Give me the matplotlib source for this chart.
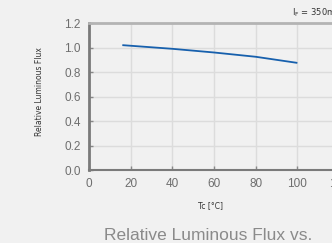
import matplotlib
matplotlib.use("Agg")
import matplotlib.pyplot as plt

# Relative luminous flux vs. case temperature
tc = [16, 20, 40, 60, 80, 100]
flux = [1.02, 1.015, 0.99, 0.96, 0.925, 0.875]
x_ticks = [0, 20, 40, 60, 80, 100, 120]
y_ticks = [0.0, 0.2, 0.4, 0.6, 0.8, 1.0, 1.2]

bg = '#f1f1f1'
fig = plt.figure(figsize=(3.32, 2.43), dpi=100, facecolor=bg)
ax = fig.add_axes([0.268, 0.300, 0.816, 0.605], facecolor=bg)

ax.plot(tc, flux, color='#1760ad', linewidth=1.3, solid_capstyle='butt')

ax.set_xlim(0, 130)
ax.set_ylim(0, 1.2)
ax.set_xticks(x_ticks)
ax.set_yticks(y_ticks)
ax.set_yticklabels([f'{v:.1f}' for v in y_ticks])
ax.grid(True, color='#dcdcdc', linewidth=1.0)
ax.set_axisbelow(True)

ax.tick_params(axis='both', direction='in', length=3, width=1, color='#888888',
               labelcolor='#6e6e6e', labelsize=8.5, pad=6)
for lbl in ax.get_xticklabels() + ax.get_yticklabels():
    lbl.set_fontfamily('Liberation Sans')

ax.spines['left'].set_color('#7a7a7a')
ax.spines['left'].set_linewidth(2)
ax.spines['bottom'].set_color('#7a7a7a')
ax.spines['bottom'].set_linewidth(1.5)
ax.spines['top'].set_color('#b4b4b4')
ax.spines['top'].set_linewidth(2)
ax.spines['right'].set_visible(False)

fig.text(39 / 332, 1 - 92 / 243, 'Relative Luminous Flux', rotation=90,
         ha='center', va='center', fontsize=5.5, color='#333333')
fig.text(210 / 332, 1 - 206 / 243, 'Tc [°C]', ha='center', va='center',
         fontsize=5.5, color='#333333')
fig.text(292 / 332, 1 - 13 / 243, r'I$_\mathrm{F}$ = 350mA', ha='left', va='center',
         fontsize=6, color='#333333')
fig.text(104 / 332, 1 - 235 / 243, 'Relative Luminous Flux vs.', ha='left',
         va='center', fontsize=12.5, color='#8a8a8a', fontfamily='Liberation Sans')

fig.savefig('out.png', dpi=100, facecolor=bg)
